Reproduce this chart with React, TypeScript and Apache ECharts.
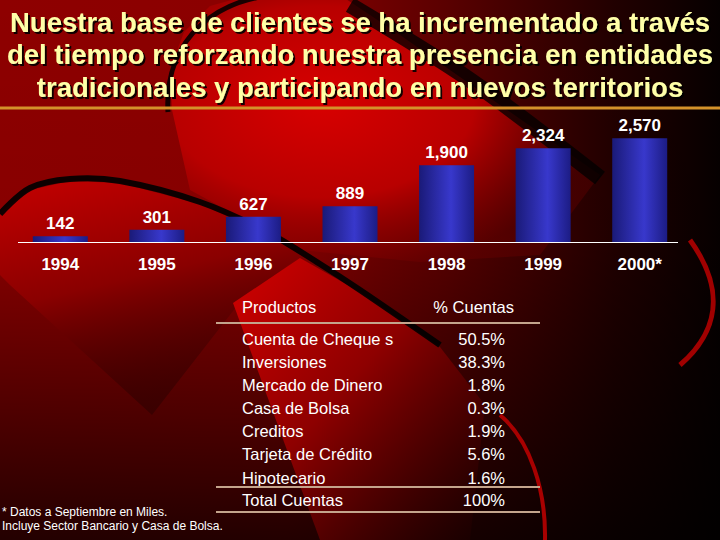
import React, { useEffect, useRef } from "react";
import * as echarts from "echarts";

const years = ["1994", "1995", "1996", "1997", "1998", "1999", "2000*"];
const clients = [142, 301, 627, 889, 1900, 2324, 2570];

const titleLines = [
  "Nuestra base de clientes se ha incrementado a través",
  "del tiempo reforzando nuestra presencia en entidades",
  "tradicionales y participando en nuevos territorios",
];

const tableHeader = ["Productos", "% Cuentas"];
const products = [
  "Cuenta de Cheque s",
  "Inversiones",
  "Mercado de Dinero",
  "Casa de Bolsa",
  "Creditos",
  "Tarjeta de Crédito",
  "Hipotecario",
  "Total Cuentas",
];
const shares = ["50.5%", "38.3%", "1.8%", "0.3%", "1.9%", "5.6%", "1.6%", "100%"];

const footnotes = [
  "* Datos a Septiembre en Miles.",
  "Incluye Sector Bancario y Casa de Bolsa.",
];

const FONT = "'Liberation Sans', Arial, Helvetica, sans-serif";

function lin(x2: number, y2: number, stops: [number, string][]) {
  return {
    type: "linear",
    x: 0,
    y: 0,
    x2,
    y2,
    colorStops: stops.map(([offset, color]) => ({ offset, color })),
  };
}

function buildBackground(): any[] {
  return [
    {
      type: "rect",
      shape: { x: 0, y: 0, width: 720, height: 540 },
      style: {
        fill: lin(1, 0, [
          [0, "#8e0000"],
          [0.4, "#8a0000"],
          [0.62, "#5a0000"],
          [0.85, "#220000"],
          [1, "#060000"],
        ]),
      },
      silent: true,
    },
    {
      type: "rect",
      shape: { x: 0, y: 0, width: 720, height: 540 },
      style: {
        fill: lin(0, 1, [
          [0, "rgba(0,0,0,0)"],
          [0.45, "rgba(0,0,0,0.05)"],
          [1, "rgba(0,0,0,0.75)"],
        ]),
      },
      silent: true,
    },
    // bright lobe at top centre
    {
      type: "polygon",
      shape: {
        points: [
          [172, 110], [170, 70], [184, 32], [210, 6], [250, -5], [340, -5],
          [400, 35], [600, 175], [540, 255], [420, 262], [300, 250], [190, 190],
        ],
      },
      style: {
        fill: {
          type: "radial",
          x: 0.35,
          y: 0.4,
          r: 0.65,
          colorStops: [
            { offset: 0, color: "#d80000" },
            { offset: 0.55, color: "#b80000" },
            { offset: 1, color: "rgba(120,0,0,0.3)" },
          ],
        },
      },
      silent: true,
    },
    // black arc edge of lobe
    {
      type: "bezierCurve",
      shape: { x1: 168, y1: 112, cpx1: 164, cpy1: 40, cpx2: 215, cpy2: -8, x2: 300, y2: -6 },
      style: { stroke: "rgba(0,0,0,0.85)", lineWidth: 5, fill: null },
      silent: true,
    },
    // dark diagonal band at top right
    {
      type: "polyline",
      shape: { points: [[350, 5], [470, 80], [600, 178]], smooth: 0.3 },
      style: { stroke: "rgba(0,0,0,0.75)", lineWidth: 16, fill: null },
      silent: true,
    },
    // lower-left bright region
    {
      type: "polygon",
      shape: {
        points: [
          [0, 212], [30, 190], [70, 181], [120, 183], [200, 204], [267, 234],
          [300, 256], [240, 302], [152, 415], [10, 285], [0, 275],
        ],
      },
      style: {
        fill: lin(0.3, 1, [
          [0, "#c40000"],
          [0.5, "#8a0000"],
          [1, "rgba(30,0,0,0.4)"],
        ]),
      },
      silent: true,
    },
    // red region in table area
    {
      type: "polygon",
      shape: {
        points: [
          [233, 303], [300, 258], [360, 292], [440, 347], [485, 405],
          [470, 540], [320, 540],
        ],
      },
      style: {
        fill: lin(1, 1, [
          [0, "#d20000"],
          [0.45, "#8e0000"],
          [1, "rgba(25,0,0,0.5)"],
        ]),
      },
      silent: true,
    },
    // black S curve
    {
      type: "polyline",
      shape: {
        points: [
          [0, 214], [30, 188], [70, 179], [120, 181], [200, 202], [267, 232],
          [320, 264], [360, 290], [440, 345],
        ],
        smooth: 0.35,
      },
      style: { stroke: "rgba(0,0,0,0.9)", lineWidth: 6, fill: null },
      silent: true,
    },
    // red crescents
    {
      type: "bezierCurve",
      shape: { x1: 500, y1: 415, cpx1: 530, cpy1: 440, cpx2: 546, cpy2: 490, x2: 545, y2: 540 },
      style: { stroke: "#a80000", lineWidth: 4, fill: null },
      silent: true,
    },
    {
      type: "bezierCurve",
      shape: { x1: 690, y1: 240, cpx1: 726, cpy1: 290, cpx2: 718, cpy2: 332, x2: 680, y2: 365 },
      style: { stroke: "#a00000", lineWidth: 5, fill: null },
      silent: true,
    },
    // gold rule under the title
    {
      type: "line",
      shape: { x1: 0, y1: 108, x2: 720, y2: 108 },
      style: { stroke: "#d4922a", lineWidth: 3 },
      silent: true,
    },
    // chart baseline
    {
      type: "line",
      shape: { x1: 18, y1: 242.5, x2: 678, y2: 242.5 },
      style: { stroke: "#ffffff", lineWidth: 1 },
      silent: true,
      z: 10,
    },
  ];
}

function buildTexts(): any[] {
  const els: any[] = [];
  titleLines.forEach((t, i) => {
    els.push({
      type: "text",
      x: 360,
      y: 22 + i * 32.5,
      style: {
        text: t,
        fill: "#ffffa8",
        font: `bold 27.5px ${FONT}`,
        textAlign: "center",
        textVerticalAlign: "middle",
        textShadowColor: "rgba(0,0,0,0.9)",
        textShadowOffsetX: 2,
        textShadowOffsetY: 2,
        textShadowBlur: 1,
      },
      silent: true,
    });
  });

  const tf = `16.5px ${FONT}`;
  els.push({
    type: "text",
    x: 242,
    y: 307,
    style: { text: tableHeader[0], fill: "#fff", font: tf, textAlign: "left", textVerticalAlign: "middle" },
    silent: true,
  });
  els.push({
    type: "text",
    x: 514,
    y: 307,
    style: { text: tableHeader[1], fill: "#fff", font: tf, textAlign: "right", textVerticalAlign: "middle" },
    silent: true,
  });
  const rowY = [339, 362, 385, 408, 431, 454, 478, 500];
  products.forEach((p, i) => {
    els.push({
      type: "text",
      x: 242,
      y: rowY[i],
      style: { text: p, fill: "#fff", font: tf, textAlign: "left", textVerticalAlign: "middle" },
      silent: true,
    });
    els.push({
      type: "text",
      x: 505,
      y: rowY[i],
      style: { text: shares[i], fill: "#fff", font: tf, textAlign: "right", textVerticalAlign: "middle" },
      silent: true,
    });
  });
  [323, 487, 512].forEach((y) => {
    els.push({
      type: "line",
      shape: { x1: 216, y1: y, x2: 540, y2: y },
      style: { stroke: "#c4a48c", lineWidth: 2 },
      silent: true,
    });
  });

  footnotes.forEach((f, i) => {
    els.push({
      type: "text",
      x: 2,
      y: 512 + i * 14,
      style: { text: f, fill: "#fff", font: `12px ${FONT}`, textAlign: "left", textVerticalAlign: "middle" },
      silent: true,
    });
  });
  return els;
}

export default function App() {
  const ref = useRef<HTMLDivElement>(null);

  useEffect(() => {
    if (!ref.current) return;
    const chart = echarts.init(ref.current, undefined, { renderer: "svg" });
    chart.setOption({
      animation: false,
      backgroundColor: "#000",
      graphic: { elements: [...buildBackground(), ...buildTexts()] },
      grid: { left: 12, right: 32, top: 121, bottom: 298, containLabel: false },
      xAxis: {
        type: "category",
        data: years,
        axisLine: { show: false },
        axisTick: { show: false },
        axisLabel: {
          color: "#fff",
          fontFamily: FONT,
          fontWeight: "bold",
          fontSize: 17,
          margin: 14,
        },
      },
      yAxis: {
        type: "value",
        min: 0,
        max: 3000,
        show: false,
        splitLine: { show: false },
      },
      series: [
        {
          type: "bar",
          data: clients,
          barWidth: 55,
          z: 5,
          itemStyle: {
            color: lin(1, 0, [
              [0, "#1a1a78"],
              [0.58, "#3838cc"],
              [1, "#1c1c84"],
            ]),
          },
          label: {
            show: true,
            position: "top",
            distance: 4,
            color: "#fff",
            fontFamily: FONT,
            fontWeight: "bold",
            fontSize: 17,
            formatter: (p: any) => Number(p.value).toLocaleString("en-US"),
          },
        },
      ],
    });
    return () => chart.dispose();
  }, []);

  return (
    <div
      ref={ref}
      style={{ position: "absolute", left: 0, top: 0, width: 720, height: 540 }}
    />
  );
}
